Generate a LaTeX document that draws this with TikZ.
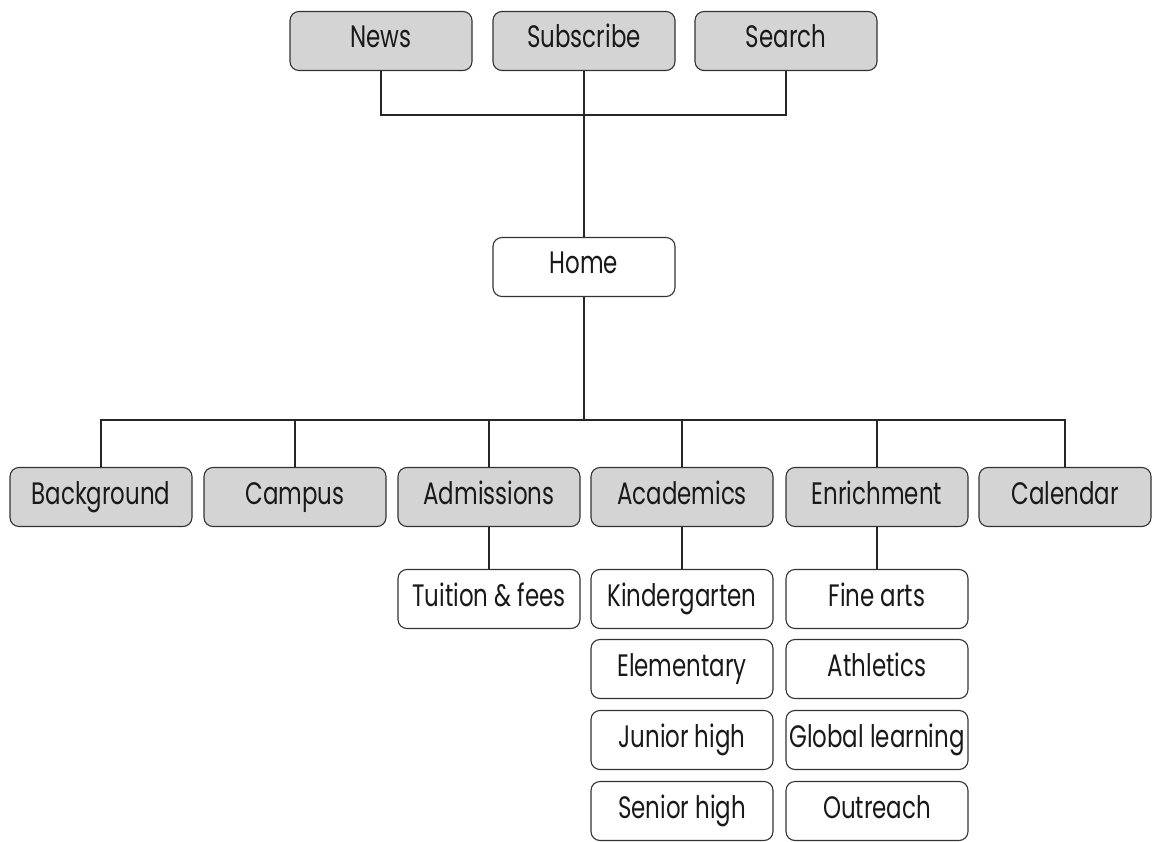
\documentclass[tikz,border=0pt]{standalone}
\usepackage{fontspec}
\setmainfont{Poppins}[FakeStretch=0.74]
\begin{document}
\begin{tikzpicture}[x=1pt,y=-1pt,
  box/.style={draw=black!80,line width=1.1pt,rounded corners=9pt,minimum width=182pt,minimum height=59pt,inner sep=0pt,text height=21pt,text depth=7pt,font=\fontsize{31}{34}\selectfont,text=black!90},
  grey/.style={box,fill=black!17},
  white/.style={box,fill=white},
  link/.style={draw=black!85,line width=1.1pt}]
\useasboundingbox (0,0) rectangle (1156,842);
\node[grey] (news) at (381,41) {News};
\node[grey] (sub) at (584,41) {Subscribe};
\node[grey] (search) at (786,41) {Search};
\node[white] (home) at (584,267) {Home};
\node[grey] (bg) at (101,497) {Background};
\node[grey] (campus) at (295,497) {Campus};
\node[grey] (adm) at (489,497) {Admissions};
\node[grey] (acad) at (682,497) {Academics};
\node[grey] (enr) at (877,497) {Enrichment};
\node[grey,minimum width=172pt] (cal) at (1065,497) {Calendar};
\node[white] (tui) at (489,599) {Tuition \& fees};
\node[white] (kin) at (682,599) {Kindergarten};
\node[white] (ele) at (682,669) {Elementary};
\node[white] (jun) at (682,740) {Junior high};
\node[white] (sen) at (682,811) {Senior high};
\node[white] (fine) at (877,599) {Fine arts};
\node[white] (ath) at (877,669) {Athletics};
\node[white] (glob) at (877,740) {Global learning};
\node[white] (out) at (877,811) {Outreach};
\coordinate (tbar) at (584,115);
\coordinate (mbar) at (584,420);
\draw[link] (news.south) |- (tbar) -| (search.south);
\draw[link] (sub.south) -- (home.north);
\draw[link] (home.south) -- (mbar);
\draw[link] (bg.north) |- (mbar) -| (cal.north);
\foreach \n in {campus,adm,acad,enr} \draw[link] (\n.north) -- (\n.north |- mbar);
\draw[link] (adm.south) -- (tui.north);
\draw[link] (acad.south) -- (kin.north);
\draw[link] (enr.south) -- (fine.north);
\end{tikzpicture}
\end{document}
